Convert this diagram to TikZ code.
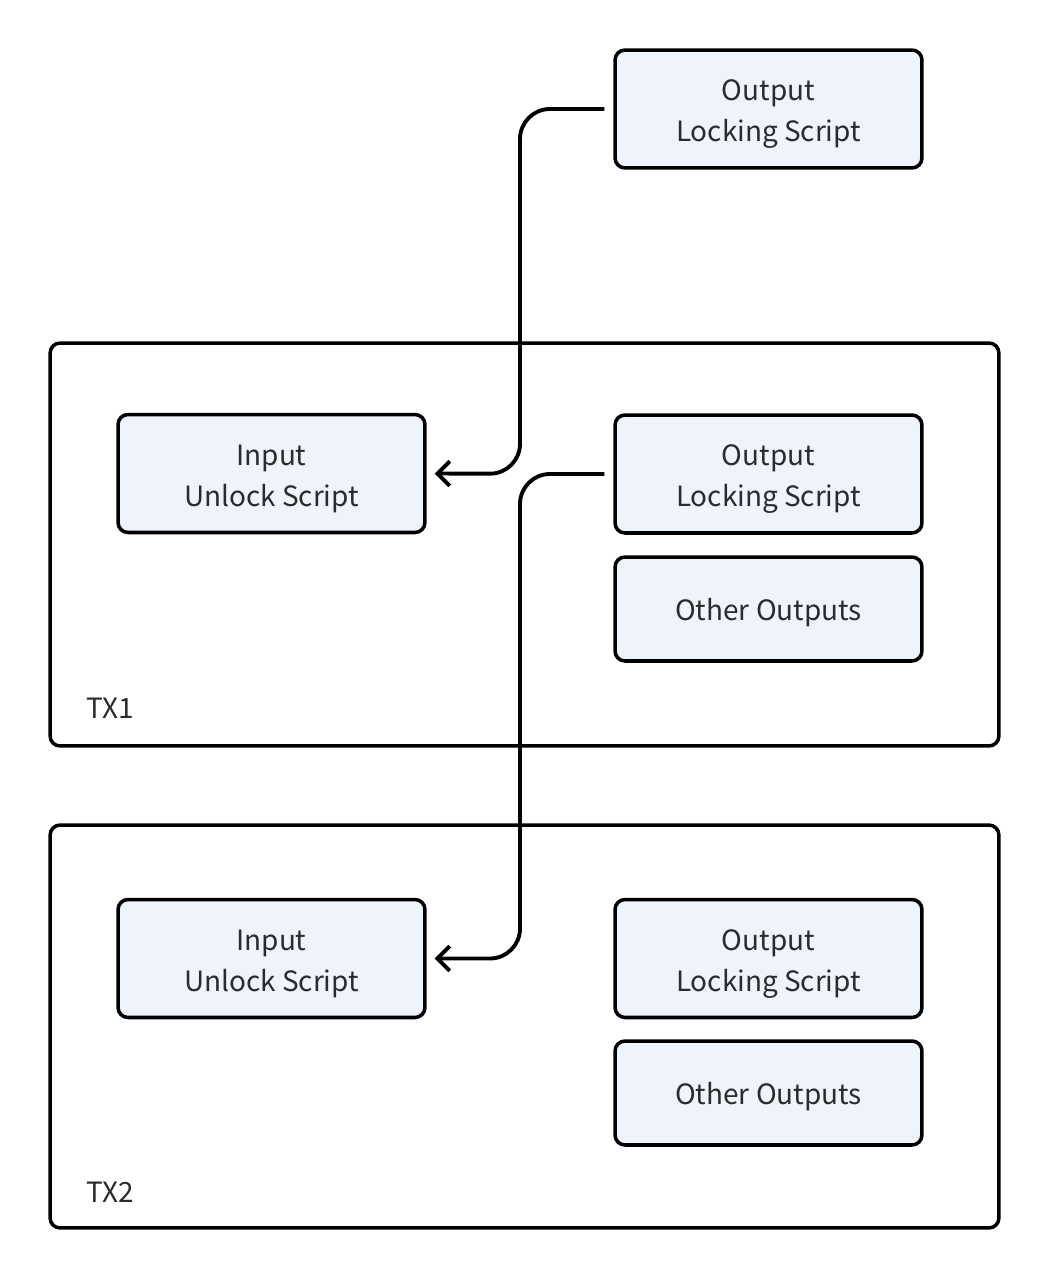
\documentclass[tikz,border=0pt]{standalone}
\usepackage{fontspec}
\setmainfont{Noto Sans CJK SC}
\usetikzlibrary{arrows.meta,calc,positioning}
\definecolor{boxfill}{HTML}{EFF3FC}
\definecolor{textgray}{HTML}{2B2B2B}
\newcommand{\twolines}[2]{\raisebox{-2.5pt}[\height][\depth]{\begin{tabular}{@{}c@{}}#1\\[0.5pt]#2\end{tabular}}}

\begin{document}
\begin{tikzpicture}[x=0.02cm,y=-0.02cm,font=\fontsize{15.9pt}{22.7pt}\selectfont,
  script/.style={draw, line width=2pt, fill=boxfill, rounded corners=0.2cm,
    text=textgray, minimum width=6.14cm, minimum height=2.36cm, inner sep=0pt},
  other/.style={script, minimum height=2.08cm, text depth=-4.5pt},
  txframe/.style={draw, line width=2pt, rounded corners=0.2cm, minimum width=18.98cm, minimum height=8.06cm, inner sep=0pt},
  txlabel/.style={anchor=west, text=textgray, inner sep=0pt},
  link/.style={line width=2.2pt, rounded corners=0.6cm, -{Straight Barb[length=7pt,width=14pt]},
    shorten <=0.18cm, shorten >=0.16cm},
]
\useasboundingbox (0,0) rectangle (1050,1278);

% containers
\node[txframe] (tx1) at (524.5,544.5) {};
\node[txframe] (tx2) at (524.5,1026.5) {};
\node[txlabel] (tx1label) at (86,708) {TX1};
\node[txlabel] (tx2label) at (86,1192) {TX2};

% previous output
\node[script] (out0) at (768.5,109) {\twolines{Output}{Locking Script}};

% TX1
\node[script] (in1) at (271.5,473.5) {\twolines{Input}{Unlock Script}};
\node[script] (out1) at (768.5,474) {\twolines{Output}{Locking Script}};
\node[other] (other1) at (768.5,609) {Other Outputs};

% TX2
\node[script] (in2) at (271.5,958.5) {\twolines{Input}{Unlock Script}};
\node[script] (out2) at (768.5,958.5) {\twolines{Output}{Locking Script}};
\node[other] (other2) at (768.5,1093) {Other Outputs};

% spending links
\coordinate (bend1) at ($(in1.east)!.5!(out1.west)$);
\coordinate (bend2) at ($(in2.east)!.5!(out2.west)$);
\draw[link] (out0.west) -| (bend1) -- (in1.east);
\draw[link] (out1.west) -| (bend2) -- (in2.east);

\end{tikzpicture}
\end{document}
